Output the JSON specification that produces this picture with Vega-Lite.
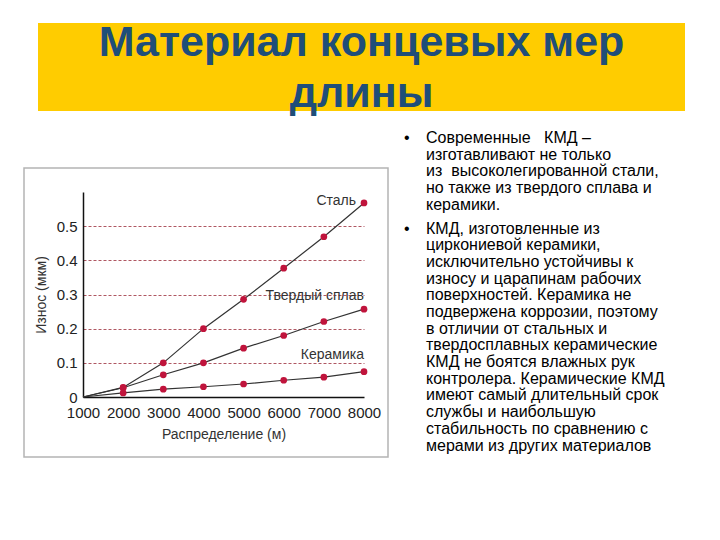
{
  "$schema": "https://vega.github.io/schema/vega-lite/v6.json",
  "padding": {"top": 22, "left": 23, "right": 5, "bottom": 5},
  "background": "white",
  "bounds": "flush",
  "spacing": 57,
  "config": {"font": "Liberation Sans", "view": {"stroke": null}},
  "datasets": {
    "title": [
      {"line": 1, "text": "Материал концевых мер"},
      {"line": 2, "text": "длины"}
    ],
    "wear": [
      {"series": "Сталь", "distance": 1000, "wear": 0},
      {"series": "Сталь", "distance": 2000, "wear": 0.028},
      {"series": "Сталь", "distance": 3000, "wear": 0.1},
      {"series": "Сталь", "distance": 4000, "wear": 0.2},
      {"series": "Сталь", "distance": 5000, "wear": 0.286},
      {"series": "Сталь", "distance": 6000, "wear": 0.377},
      {"series": "Сталь", "distance": 7000, "wear": 0.469},
      {"series": "Сталь", "distance": 8000, "wear": 0.568},
      {"series": "Твердый сплав", "distance": 1000, "wear": 0},
      {"series": "Твердый сплав", "distance": 2000, "wear": 0.027},
      {"series": "Твердый сплав", "distance": 3000, "wear": 0.065},
      {"series": "Твердый сплав", "distance": 4000, "wear": 0.1},
      {"series": "Твердый сплав", "distance": 5000, "wear": 0.143},
      {"series": "Твердый сплав", "distance": 6000, "wear": 0.18},
      {"series": "Твердый сплав", "distance": 7000, "wear": 0.221},
      {"series": "Твердый сплав", "distance": 8000, "wear": 0.257},
      {"series": "Керамика", "distance": 1000, "wear": 0},
      {"series": "Керамика", "distance": 2000, "wear": 0.012},
      {"series": "Керамика", "distance": 3000, "wear": 0.023},
      {"series": "Керамика", "distance": 4000, "wear": 0.03},
      {"series": "Керамика", "distance": 5000, "wear": 0.038},
      {"series": "Керамика", "distance": 6000, "wear": 0.049},
      {"series": "Керамика", "distance": 7000, "wear": 0.058},
      {"series": "Керамика", "distance": 8000, "wear": 0.074}
    ],
    "body": [
      {"para": 1, "text": "Современные\u00a0\u00a0\u00a0КМД –\nизготавливают не только\nиз\u00a0\u00a0высоколегированной стали,\nно также из твердого сплава и\nкерамики."},
      {"para": 2, "text": "КМД, изготовленные из\nциркониевой керамики,\nисключительно устойчивы к\nизносу и царапинам рабочих\nповерхностей. Керамика не\nподвержена коррозии, поэтому\nв отличии от стальных и\nтвердосплавных керамические\nКМД не боятся влажных рук\nконтролера. Керамические КМД\nимеют самый длительный срок\nслужбы и наибольшую\nстабильность по сравнению с\nмерами из других материалов"}
    ]
  },
  "vconcat": [
    {
      "width": 661,
      "height": 88,
      "view": {"fill": null, "stroke": null},
      "encoding": {
        "x": {"datum": 0, "type": "quantitative", "scale": {"domain": [0, 1], "range": [14, 661]}, "axis": null}
      },
      "layer": [
        {
          "data": {"values": [{"band": "banner"}]},
          "mark": {"type": "rect", "color": "#FFCC00"},
          "encoding": {
            "x": {"datum": 0, "type": "quantitative"},
            "x2": {"datum": 1}
          }
        },
        {
          "data": {"name": "title"},
          "mark": {"type": "text", "font": "Liberation Sans", "fontSize": 43, "fontWeight": "bold", "color": "#1F4E79", "align": "center", "baseline": "alphabetic"},
          "encoding": {
            "x": {"datum": 0.5, "type": "quantitative"},
            "y": {"field": "line", "type": "ordinal", "scale": {"type": "point", "range": [33, 84], "padding": 0}, "axis": null},
            "text": {"field": "text"}
          }
        }
      ]
    },
    {
      "bounds": "flush",
      "spacing": 38,
      "hconcat": [
        {
          "width": 364,
          "height": 289,
          "view": {"stroke": "#b4b4b4", "strokeWidth": 1.5, "fill": "white"},
          "data": {"name": "wear"},
          "encoding": {
            "x": {
              "field": "distance", "type": "quantitative",
              "scale": {"domain": [1000, 8000], "range": [59, 340], "nice": false, "zero": false},
              "axis": {
                "title": "Распределение (м)", "offset": -60,
                "values": [1000, 2000, 3000, 4000, 5000, 6000, 7000, 8000],
                "format": "d", "ticks": false, "grid": false,
                "domainColor": "#111", "domainWidth": 1.5,
                "labelFontSize": 15, "labelColor": "#222", "labelPadding": 8,
                "labelFlush": false, "labelOverlap": false,
                "titleFontSize": 14, "titleFontWeight": "normal", "titleColor": "#333", "titlePadding": 7
              }
            },
            "y": {
              "field": "wear", "type": "quantitative",
              "scale": {"domain": [0, 0.6], "range": [229, 24], "nice": false},
              "axis": {
                "title": "Износ (мкм)", "offset": -59,
                "values": [0, 0.1, 0.2, 0.3, 0.4, 0.5],
                "format": "~g", "ticks": false, "grid": true,
                "gridColor": "#9b2c3a", "gridDash": [3, 2], "gridWidth": 0.8,
                "gridOpacity": {"condition": {"test": "datum.value === 0", "value": 0}, "value": 1},
                "domainColor": "#111", "domainWidth": 1.5,
                "labelFontSize": 15, "labelColor": "#222", "labelPadding": 6,
                "titleFontSize": 14, "titleFontWeight": "normal", "titleColor": "#333", "titlePadding": 8
              }
            }
          },
          "layer": [
            {
              "mark": {"type": "line", "color": "#333333", "strokeWidth": 1.2},
              "encoding": {"detail": {"field": "series"}}
            },
            {
              "transform": [{"filter": "datum.distance > 1000"}],
              "mark": {"type": "circle", "color": "#C0143C", "size": 45, "opacity": 1}
            },
            {
              "transform": [{"filter": "datum.series === 'Сталь' && datum.distance === 8000"}],
              "mark": {"type": "text", "align": "right", "baseline": "middle", "dx": -8, "dy": -2, "fontSize": 14, "color": "#333"},
              "encoding": {"text": {"field": "series"}}
            },
            {
              "transform": [{"filter": "datum.series === 'Твердый сплав' && datum.distance === 8000"}],
              "mark": {"type": "text", "align": "right", "baseline": "middle", "dx": 0, "dy": -13, "fontSize": 14, "color": "#333"},
              "encoding": {"text": {"field": "series"}}
            },
            {
              "transform": [{"filter": "datum.series === 'Керамика' && datum.distance === 8000"}],
              "mark": {"type": "text", "align": "right", "baseline": "middle", "dx": 0, "dy": -17, "fontSize": 14, "color": "#333"},
              "encoding": {"text": {"field": "series"}}
            }
          ]
        },
        {
          "width": 275,
          "height": 289,
          "data": {"name": "body"},
          "encoding": {
            "x": {"datum": 0, "type": "quantitative", "scale": {"domain": [0, 1]}, "axis": null},
            "y": {"field": "para", "type": "ordinal", "scale": {"type": "point", "range": [-25, 65.5], "padding": 0}, "axis": null}
          },
          "layer": [
            {
              "mark": {"type": "text", "align": "left", "baseline": "alphabetic", "fontSize": 16, "lineHeight": 16.7, "lineBreak": "\n", "color": "black"},
              "encoding": {"text": {"field": "text"}}
            },
            {
              "mark": {"type": "text", "align": "left", "baseline": "alphabetic", "fontSize": 16, "dx": -22, "color": "black"},
              "encoding": {"text": {"value": "•"}}
            }
          ]
        }
      ]
    }
  ]
}
